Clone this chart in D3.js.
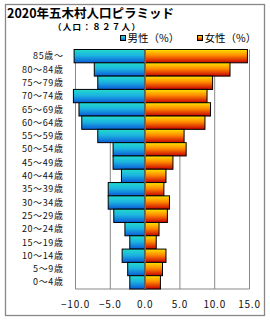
<!DOCTYPE html>
<html>
<head>
<meta charset="utf-8">
<script src="https://cdn.jsdelivr.net/npm/d3@7"></script>
<style>
  body { margin: 0; background: #fff; }
  text { font-family: "Noto Sans CJK JP", "Noto Sans", sans-serif; }
</style>
</head>
<body>
<div id="chart"></div>
<script>
// age groups, top to bottom
const ages = ["85歳～", "80～84歳", "75～79歳", "70～74歳", "65～69歳", "60～64歳",
  "55～59歳", "50～54歳", "45～49歳", "40～44歳", "35～39歳", "30～34歳",
  "25～29歳", "20～24歳", "15～19歳", "10～14歳", "5～9歳", "0～4歳"];
// percentages
const male = [10.2, 7.3, 6.8, 10.3, 9.5, 9.1, 6.8, 4.6, 4.6, 3.4, 5.3, 5.3, 4.5, 2.9, 2.2, 3.3, 2.5, 2.2];
const female = [14.7, 12.2, 9.7, 8.9, 9.4, 8.6, 5.6, 5.9, 4.0, 3.0, 2.7, 3.5, 3.2, 2.0, 1.6, 3.0, 2.5, 2.2];
const ticks = [-10, -5, 0, 5, 10, 15];

const width = 270, height = 320;
const margin = { top: 49.5, right: 20.5, bottom: 31, left: 75.5 };

const svg = d3.select("#chart").append("svg")
    .attr("width", width)
    .attr("height", height);

const defs = svg.append("defs");
const gm = defs.append("linearGradient").attr("id", "gMale")
    .attr("x1", 0).attr("y1", 0).attr("x2", 0).attr("y2", 1);
gm.append("stop").attr("offset", "0%").attr("stop-color", "#22dccc");
gm.append("stop").attr("offset", "45%").attr("stop-color", "#1cb4e0");
gm.append("stop").attr("offset", "100%").attr("stop-color", "#0a5ad8");
const gf = defs.append("linearGradient").attr("id", "gFemale")
    .attr("x1", 0).attr("y1", 0).attr("x2", 0).attr("y2", 1);
gf.append("stop").attr("offset", "0%").attr("stop-color", "#ffe400");
gf.append("stop").attr("offset", "45%").attr("stop-color", "#ff8a00");
gf.append("stop").attr("offset", "100%").attr("stop-color", "#c80000");

// outer frame
svg.append("rect")
    .attr("x", 5.5).attr("y", 4.5)
    .attr("width", 259).attr("height", 311)
    .attr("fill", "none")
    .attr("stroke", "#888")
    .attr("stroke-width", 1.3);

svg.append("text")
    .attr("x", 7).attr("y", 17.5)
    .style("font-size", "12.5px")
    .style("font-weight", "bold")
    .text("2020年五木村人口ピラミッド");

svg.append("text")
    .attr("x", 53).attr("y", 30)
    .style("font-size", "8.5px")
    .style("font-weight", "bold")
    .style("letter-spacing", "1.3px")
    .text("（人口：８２７人）");

const innerW = width - margin.left - margin.right,
    innerH = height - margin.top - margin.bottom;

const x = d3.scaleLinear().domain([-10, 15]).range([0, innerW]);
const y = d3.scaleBand().domain(ages).range([0, innerH]).padding(0);

const g = svg.append("g")
    .attr("transform", "translate(" + margin.left + "," + margin.top + ")");

// gridlines
g.selectAll(".grid")
    .data(ticks.filter(d => d !== 0))
    .enter().append("line")
    .attr("x1", d => x(d)).attr("x2", d => x(d))
    .attr("y1", 0).attr("y2", innerH)
    .attr("stroke", "#888");

g.append("line")
    .attr("x1", 0).attr("x2", innerW)
    .attr("y1", innerH).attr("y2", innerH)
    .attr("stroke", "#888");

g.selectAll(".male")
    .data(male)
    .enter().append("rect")
    .attr("x", d => x(-d))
    .attr("y", (d, i) => y(ages[i]))
    .attr("width", d => x(0) - x(-d))
    .attr("height", y.bandwidth())
    .attr("fill", "url(#gMale)")
    .attr("stroke", "#000")
    .attr("stroke-width", 1);

g.selectAll(".female")
    .data(female)
    .enter().append("rect")
    .attr("x", x(0))
    .attr("y", (d, i) => y(ages[i]))
    .attr("width", d => x(d) - x(0))
    .attr("height", y.bandwidth())
    .attr("fill", "url(#gFemale)")
    .attr("stroke", "#000")
    .attr("stroke-width", 1);

// zero line on top
g.append("line")
    .attr("x1", x(0)).attr("x2", x(0))
    .attr("y1", 0).attr("y2", innerH)
    .attr("stroke", "#888")
    .attr("stroke-width", 1.2);

// category labels
g.selectAll(".cat")
    .data(ages)
    .enter().append("text")
    .attr("x", -12)
    .attr("y", d => y(d) + y.bandwidth() / 2)
    .attr("dy", "0.35em")
    .attr("text-anchor", "end")
    .style("font-size", "9px")
    .style("letter-spacing", "0.6px")
    .attr("fill", "#111")
    .text(d => d);

// tick labels
g.selectAll(".tick")
    .data(ticks)
    .enter().append("text")
    .attr("x", d => x(d))
    .attr("y", innerH + 15)
    .attr("dy", "0.35em")
    .attr("text-anchor", "middle")
    .style("font-size", "10px")
    .style("letter-spacing", "0.8px")
    .attr("fill", "#111")
    .text(d => d3.format(".1f")(d).replace("-", "−"));

// legend
const legend = svg.append("g");
[["男性（%）", "url(#gMale)", 120.5], ["女性（%）", "url(#gFemale)", 197.5]].forEach(function(d) {
    legend.append("rect")
        .attr("x", d[2]).attr("y", 35.5)
        .attr("width", 5).attr("height", 5)
        .attr("fill", d[1])
        .attr("stroke", "#000");
    legend.append("text")
        .attr("x", d[2] + 7).attr("y", 42)
        .style("font-size", "10.5px")
        .text(d[0]);
});
</script>
</body>
</html>
